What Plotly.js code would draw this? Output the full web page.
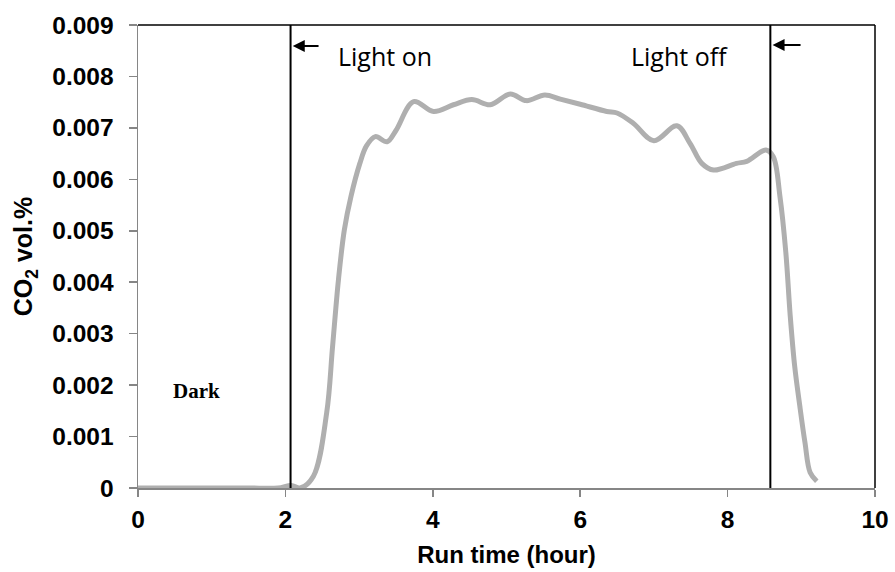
<!DOCTYPE html>
<html>
<head>
<meta charset="utf-8">
<script src="https://cdn.plot.ly/plotly-3.0.1.min.js"></script>
<style>html,body{margin:0;padding:0;background:#fff}#chart{width:895px;height:572px}</style>
</head>
<body>
<div id="chart"></div>
<script>
// Run time (hour)
const runTime = [0, 0.5, 1.0, 1.5, 1.9, 2.08, 2.2, 2.38, 2.56, 2.64, 2.72, 2.8, 2.89, 3.01, 3.1, 3.22, 3.38, 3.5, 3.74, 4.01, 4.28, 4.53, 4.78, 5.05, 5.27, 5.52, 5.73, 6.0, 6.36, 6.5, 6.72, 7.0, 7.31, 7.49, 7.65, 7.81, 8.12, 8.26, 8.52, 8.62, 8.71, 8.79, 8.85, 8.91, 8.98, 9.05, 9.12, 9.21];
// CO2 vol.%
const co2 = [0, 0, 0, 0, 0, 0.00005, 0.0, 0.00023, 0.00146, 0.00275, 0.00405, 0.00502, 0.00567, 0.00631, 0.00665, 0.00683, 0.00673, 0.00695, 0.00751, 0.00732, 0.00745, 0.00755, 0.00745, 0.00766, 0.00753, 0.00764, 0.00756, 0.00746, 0.00732, 0.00729, 0.00709, 0.00675, 0.00704, 0.0067, 0.00631, 0.00618, 0.00631, 0.00635, 0.00657, 0.00644, 0.00567, 0.00458, 0.00334, 0.00237, 0.00159, 0.00088, 0.0003, 0.00013];

const xTicks = [0, 2, 4, 6, 8, 10];
const yTicks = [0, 0.001, 0.002, 0.003, 0.004, 0.005, 0.006, 0.007, 0.008, 0.009];
const yTickText = ['0', '0.001', '0.002', '0.003', '0.004', '0.005', '0.006', '0.007', '0.008', '0.009'];

const lightOn = 2.07;
const lightOff = 8.58;

const tickFont = {family: 'Liberation Sans, Arial, sans-serif', size: 24.5, color: '#000', weight: 'bold'};
const xTitleFont = {family: 'Liberation Sans, Arial, sans-serif', size: 24, color: '#000', weight: 'bold'};
const yTitleFont = {family: 'Liberation Sans, Arial, sans-serif', size: 25, color: '#000', weight: 'bold'};

const trace = {
  x: runTime, y: co2, type: 'scatter', mode: 'lines',
  line: {color: '#afafaf', width: 5, shape: 'spline', smoothing: 1},
  hoverinfo: 'skip'
};

const layout = {
  width: 895, height: 572,
  margin: {l: 138, r: 20, t: 25, b: 84},
  paper_bgcolor: '#fff', plot_bgcolor: '#fff',
  showlegend: false,
  xaxis: {
    range: [0, 10], tickvals: xTicks, ticktext: xTicks.map(String),
    showgrid: false, zeroline: false,
    showline: true, linecolor: '#868686', linewidth: 1.5,
    ticks: 'outside', ticklen: 7, tickcolor: '#868686', tickwidth: 1.5,
    ticklabelstandoff: 2,
    tickfont: tickFont,
    title: {text: 'Run time (hour)', font: xTitleFont, standoff: 14},
    automargin: false
  },
  yaxis: {
    range: [0, 0.009], tickvals: yTicks, ticktext: yTickText,
    showgrid: false, zeroline: false,
    showline: true, linecolor: '#868686', linewidth: 1.5,
    ticks: 'outside', ticklen: 8, tickcolor: '#868686', tickwidth: 1.5,
    ticklabelstandoff: 10,
    tickfont: tickFont,
    title: {text: 'CO<sub>2</sub> vol.%', font: yTitleFont, standoff: 12},
    automargin: false
  },
  shapes: [
    {type: 'line', xref: 'paper', yref: 'paper', x0: 0, x1: 1, y0: 1, y1: 1, line: {color: '#000', width: 1.5}},
    {type: 'line', xref: 'paper', yref: 'paper', x0: 1, x1: 1, y0: 0, y1: 1, line: {color: '#000', width: 1.5}},
    {type: 'line', xref: 'x', yref: 'paper', x0: lightOn, x1: lightOn, y0: 0, y1: 1, line: {color: '#000', width: 2}},
    {type: 'line', xref: 'x', yref: 'paper', x0: lightOff, x1: lightOff, y0: 0, y1: 1, line: {color: '#000', width: 2}}
  ],
  annotations: [
    {x: lightOn + 0.03, y: 0.00859, xref: 'x', yref: 'y', axref: 'x', ayref: 'y', ax: 2.47, ay: 0.00859,
     text: '', showarrow: true, arrowhead: 2, arrowsize: 1.2, arrowwidth: 2, arrowcolor: '#000'},
    {x: lightOff + 0.03, y: 0.00861, xref: 'x', yref: 'y', axref: 'x', ayref: 'y', ax: 9.01, ay: 0.00861,
     text: '', showarrow: true, arrowhead: 2, arrowsize: 1.2, arrowwidth: 2, arrowcolor: '#000'},
    {x: 3.35, y: 0.0084, xref: 'x', yref: 'y', text: 'Light on', showarrow: false,
     font: {family: 'Open Sans, sans-serif', size: 25, color: '#000'}},
    {x: 7.35, y: 0.0084, xref: 'x', yref: 'y', text: 'Light off', showarrow: false,
     font: {family: 'Open Sans, sans-serif', size: 25, color: '#000'}},
    {x: 0.79, y: 0.00188, xref: 'x', yref: 'y', text: 'Dark', showarrow: false,
     font: {family: 'Liberation Serif, Times New Roman, serif', size: 21, color: '#000', weight: 'bold'}}
  ]
};

Plotly.newPlot('chart', [trace], layout, {staticPlot: true, displayModeBar: false});
</script>
</body>
</html>
